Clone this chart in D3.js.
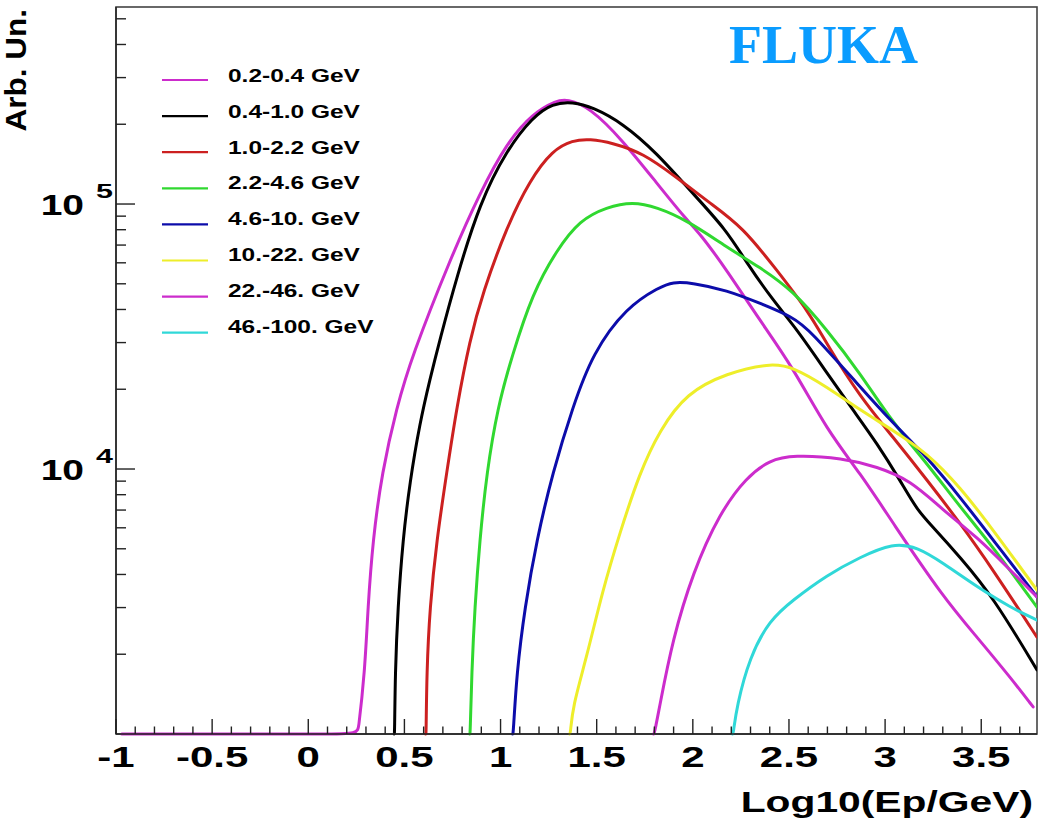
<!DOCTYPE html>
<html><head><meta charset="utf-8">
<script src="https://cdn.jsdelivr.net/npm/d3@7/dist/d3.min.js"></script>
<style>body{margin:0;background:#fff}</style>
</head><body>
<svg id="c" width="1040" height="821"></svg>
<script>
// ---- data (log10(Ep/GeV), arbitrary units; 0 = empty bin, drawn on the floor) ----
const seriesLabels = ["0.2-0.4 GeV","0.4-1.0 GeV","1.0-2.2 GeV","2.2-4.6 GeV","4.6-10. GeV","10.-22. GeV","22.-46. GeV","46.-100. GeV"];
const seriesColors = ["#cc2ccc","#000000","#cc2020","#30d830","#0c0caa","#eeee2a","#cc2ccc","#30d8d8"];

const e0 = [-0.97,0.255,0.258,0.294,0.31,0.336,0.383,0.46,0.538,0.736,0.892,1.032,1.167,1.292,1.344,1.464,1.635,1.812,1.968,2.035,2.176,2.347,2.519,2.698,2.870,3.041,3.301,3.478,3.650,3.770];
const v0 = [0,0,0,1700,3000,5400,9700,17100,26500,61500,110000,170000,220000,246000,249000,232000,174000,120000,87000,77800,56400,36500,24300,14000,9660,6250,3290,2320,1640,1265];

const e1 = [0.447,0.449,0.452,0.466,0.492,0.528,0.58,0.632,0.684,0.772,0.892,1.032,1.167,1.271,1.375,1.479,1.635,1.812,1.983,2.176,2.28,2.415,2.544,2.698,2.833,2.958,3.077,3.166,3.249,3.390,3.562,3.790];
const v1 = [0,0,1700,3000,5400,8900,14900,21700,30700,53100,101000,160000,213000,240000,243000,232000,202000,156000,113000,79800,59900,43500,33500,23000,16700,12500,9090,7000,6040,4650,3290,1745];

const e2 = [0.611,0.613,0.616,0.632,0.668,0.72,0.772,0.84,0.907,1.032,1.152,1.271,1.375,1.464,1.583,1.739,1.916,2.087,2.259,2.436,2.607,2.698,2.870,3.041,3.218,3.390,3.562,3.790];
const v2 = [0,0,1700,3000,5400,9700,17100,30700,46200,81900,123000,160000,174000,176000,170000,156000,126000,101000,81900,56400,38800,29500,18700,13200,9090,6250,4160,2320];

const e3 = [0.84,0.842,0.85,0.866,0.892,0.928,0.985,1.058,1.167,1.292,1.412,1.552,1.687,1.812,1.968,2.176,2.347,2.519,2.698,2.870,3.041,3.218,3.390,3.562,3.790];
const v3 = [0,0,1700,3000,5400,9700,17100,26500,46200,67000,87000,97400,102000,97400,87000,68800,57800,47300,33500,23000,14900,10500,7190,5080,3010];

const e4 = [1.063,1.066,1.084,1.126,1.188,1.271,1.375,1.479,1.656,1.827,1.895,1.999,2.176,2.347,2.519,2.607,2.870,3.041,3.218,3.390,3.562,3.790];
const v4 = [0,0,1700,3000,5400,9700,17100,27400,40900,48600,50800,50400,47300,42300,37500,33500,20400,14900,11100,7830,5400,3290];

const e5 = [1.36,1.363,1.375,1.448,1.531,1.62,1.723,1.827,1.968,2.176,2.40,2.521,2.698,2.870,3.041,3.218,3.390,3.562,3.790];
const v5 = [0,0,1270,1950,3490,5730,9660,14000,19400,23000,25100,24300,20400,16700,14000,11500,8550,5890,3490];

const e6 = [1.796,1.8,1.827,1.895,1.999,2.139,2.28,2.399,2.521,2.781,2.958,3.130,3.301,3.478,3.650,3.790];
const v6 = [0,0,1270,2270,4050,6820,9330,10800,11300,11000,10200,9090,7000,5540,4160,3290];

const e7 = [2.207,2.21,2.228,2.295,2.399,2.52,2.698,2.870,3.041,3.166,3.301,3.478,3.650,3.790];
const v7 = [0,0,1270,1950,2690,3200,3980,4650,5260,5080,4420,3590,3010,2690];

const xTickLabels = ["-1","-0.5","0","0.5","1","1.5","2","2.5","3","3.5"];
const xTickValues = [-1,-0.5,0,0.5,1,1.5,2,2.5,3,3.5];
const yTickExponents = [4,5];

const energies = [e0,e1,e2,e3,e4,e5,e6,e7];
const values = [v0,v1,v2,v3,v4,v5,v6,v7];

// ---- layout ----
const L = 116, R = 1037, T = 7, B = 734;
const yMin = 1000, yMax = 5.54e5;
const x = d3.scaleLinear().domain([-1, 3.79]).range([L, R]);
const y = d3.scaleLog().domain([yMin, yMax]).range([B, T]);

const svg = d3.select("#c");
const FONT = "'Liberation Sans', Arial, Helvetica, sans-serif";

function txt(g, px, py, s, size, anchor, sx, rot) {
  return g.append("text")
    .attr("transform", `translate(${px},${py})` + (rot ? ` rotate(${rot})` : "") + ` scale(${sx},1)`)
    .attr("text-anchor", anchor)
    .attr("font-family", FONT).attr("font-weight", "bold")
    .attr("font-size", size).attr("fill", "#000").text(s);
}

svg.append("defs").append("clipPath").attr("id", "clip")
  .append("rect").attr("x", L).attr("y", T - 2).attr("width", R - L).attr("height", B - T + 4);

// frame
svg.append("rect").attr("x", L).attr("y", T).attr("width", R - L).attr("height", B - T)
  .attr("fill", "none").attr("stroke", "#444").attr("stroke-width", 1.6);

// curves
const line = d3.line()
  .x(d => x(d[0]))
  .y(d => y(Math.max(d[1], yMin)))
  .curve(d3.curveBasis);

const gc = svg.append("g").attr("clip-path", "url(#clip)");
energies.forEach((es, i) => {
  const pts = es.map((e, j) => [e, values[i][j]]);
  gc.append("path").attr("d", line(pts)).attr("fill", "none")
    .attr("stroke", seriesColors[i]).attr("stroke-width", 3)
    .attr("stroke-linejoin", "round").attr("stroke-linecap", "round");
});

// axes lines
const ga = svg.append("g").attr("stroke", "#222").attr("stroke-width", 1.4);
ga.append("line").attr("x1", L).attr("x2", L).attr("y1", T).attr("y2", B);
ga.append("line").attr("x1", L).attr("x2", R).attr("y1", B).attr("y2", B);

// x ticks
d3.range(-10, 38).map(i => i / 10).forEach(v => {
  const major = Math.abs(v * 2 - Math.round(v * 2)) < 1e-6;
  ga.append("line").attr("x1", x(v)).attr("x2", x(v)).attr("y1", B).attr("y2", B - (major ? 15 : 7.5));
});
// y ticks
[1e3, 1e4, 1e5].forEach(dec => {
  d3.range(1, 10).forEach(k => {
    const v = dec * k;
    if (v <= yMin || v > yMax) return;
    const major = k === 1;
    ga.append("line").attr("x1", L).attr("x2", L + (major ? 19 : 10)).attr("y1", y(v)).attr("y2", y(v));
  });
});

// x tick labels
const gt = svg.append("g");
xTickValues.forEach((v, i) => txt(gt, x(v), 767, xTickLabels[i], 30, "middle", 1.4));

// y tick labels
yTickExponents.forEach(p => {
  const py = y(Math.pow(10, p));
  txt(gt, 84, py + 11, "10", 30, "end", 1.3);
  txt(gt, 96, py - 6, String(p), 21, "start", 1.45);
});

// axis titles
txt(gt, 1033, 812, "Log10(Ep/GeV)", 30, "end", 1.36);
txt(gt, 26, 9, "Arb. Un.", 30, "end", 1.05, -90);

// FLUKA
svg.append("text").attr("x", 729).attr("y", 63)
  .attr("font-family", "'Liberation Serif', 'Times New Roman', serif").attr("font-weight", "bold")
  .attr("font-size", 54).attr("fill", "#0a9cff").text("FLUKA");

// legend
const gl = svg.append("g");
seriesLabels.forEach((s, i) => {
  const ly = 80 + i * 36.1;
  gl.append("line").attr("x1", 162).attr("x2", 208).attr("y1", ly).attr("y2", ly)
    .attr("stroke", seriesColors[i]).attr("stroke-width", 2.2);
  txt(gl, 228, 82 + i * 35.8, s, 18, "start", 1.36);
});
</script>
</body></html>
